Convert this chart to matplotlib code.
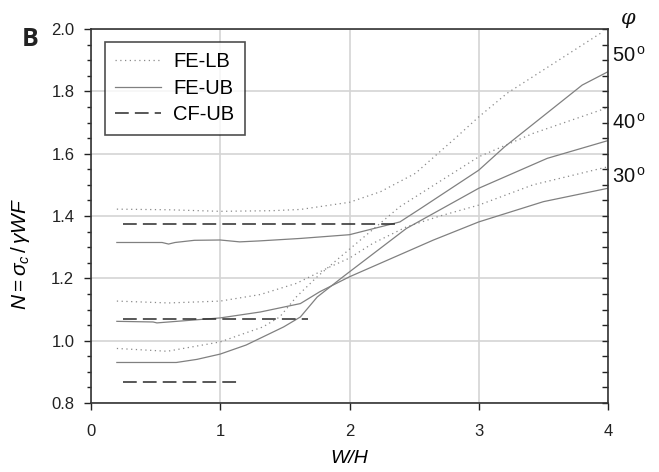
import matplotlib
matplotlib.use("Agg")
import matplotlib.pyplot as plt
from matplotlib.ticker import MultipleLocator

plt.rcParams['font.family'] = ['Liberation Sans', 'DejaVu Sans']
plt.rcParams['mathtext.fontset'] = 'custom'
plt.rcParams['mathtext.rm'] = 'Liberation Sans'
plt.rcParams['mathtext.it'] = 'Liberation Sans:italic'
plt.rcParams['mathtext.bf'] = 'Liberation Sans:bold'

# ---- data ----
# phi = 50 deg set
lb50_x = [0.2, 0.6, 1.0, 1.4, 1.62, 2.0, 2.24, 2.51, 2.83, 3.0, 3.22, 3.96]
lb50_y = [1.422, 1.420, 1.415, 1.417, 1.421, 1.444, 1.478, 1.537, 1.654, 1.718, 1.794, 1.991]
ub50_x = [0.2, 0.55, 0.6, 0.65, 0.8, 1.0, 1.15, 1.3, 1.62, 2.0, 2.39, 2.55, 3.0, 3.2, 3.8, 4.0]
ub50_y = [1.315, 1.315, 1.310, 1.315, 1.322, 1.323, 1.317, 1.320, 1.328, 1.340, 1.381, 1.424,
          1.547, 1.622, 1.820, 1.863]
cf50_x = [0.25, 2.39]
cf50_y = [1.375, 1.375]

# middle-left set (ends at 30 deg)
lbB_x = [0.2, 0.6, 1.0, 1.31, 1.59, 1.85, 2.0, 2.18, 2.44, 2.7, 3.0, 3.42, 4.0]
lbB_y = [1.127, 1.121, 1.127, 1.148, 1.184, 1.237, 1.265, 1.312, 1.365, 1.400, 1.435, 1.500, 1.558]
ubB_x = [0.2, 0.48, 0.51, 1.0, 1.31, 1.62, 1.77, 2.0, 2.65, 3.0, 3.5, 4.0]
ubB_y = [1.062, 1.060, 1.057, 1.073, 1.092, 1.119, 1.157, 1.205, 1.323, 1.381, 1.446, 1.489]
cfB_x = [0.25, 1.68]
cfB_y = [1.071, 1.071]

# lowest-left set (ends at 40 deg)
lbC_x = [0.2, 0.59, 1.0, 1.15, 1.33, 1.46, 1.59, 1.75, 1.93, 2.39, 3.0, 3.42, 4.0]
lbC_y = [0.975, 0.966, 0.996, 1.018, 1.044, 1.076, 1.141, 1.205, 1.269, 1.430, 1.590, 1.665, 1.748]
ubC_x = [0.2, 0.66, 0.82, 1.0, 1.2, 1.49, 1.62, 1.75, 1.95, 2.44, 3.0, 3.53, 4.0]
ubC_y = [0.930, 0.930, 0.940, 0.957, 0.986, 1.044, 1.076, 1.140, 1.205, 1.360, 1.489, 1.585, 1.642]
cfC_x = [0.25, 1.15]
cfC_y = [0.866, 0.866]

legend_labels = ['FE-LB', 'FE-UB', 'CF-UB']
phi_labels = ['50', '40', '30']
phi_label_y = [1.915, 1.70, 1.525]
x_ticks = [0, 1, 2, 3, 4]
y_ticks = [0.8, 1.0, 1.2, 1.4, 1.6, 1.8, 2.0]

# ---- figure ----
fig = plt.figure(figsize=(6.59, 4.72), dpi=100)
ax = fig.add_axes([91/659, 1-403/472, (608-91)/659, (403-29)/472])

lb_style = dict(color='#8a8a8a', lw=0.9, linestyle=(0, (1, 2.8)))
ub_style = dict(color='#808080', lw=0.9, linestyle='-')
cf_style = dict(color='#2a2a2a', lw=1.1, linestyle=(0, (9, 4)))

h_lb, = ax.plot(lb50_x, lb50_y, **lb_style)
ax.plot(lbB_x, lbB_y, **lb_style)
ax.plot(lbC_x, lbC_y, **lb_style)
h_ub, = ax.plot(ub50_x, ub50_y, **ub_style)
ax.plot(ubB_x, ubB_y, **ub_style)
ax.plot(ubC_x, ubC_y, **ub_style)
h_cf, = ax.plot(cf50_x, cf50_y, **cf_style)
ax.plot(cfB_x, cfB_y, **cf_style)
ax.plot(cfC_x, cfC_y, **cf_style)

ax.set_xlim(0, 4)
ax.set_ylim(0.8, 2.0)
ax.set_xticks(x_ticks)
ax.set_xticklabels([str(t) for t in x_ticks])
ax.set_yticks(y_ticks)
ax.set_yticklabels([f'{t:.1f}' for t in y_ticks])
ax.yaxis.set_minor_locator(MultipleLocator(0.05))
ax.grid(True, which='major', color='#d4d4d4', lw=1.2)
ax.set_axisbelow(True)

for s in ax.spines.values():
    s.set_color('#333333')
    s.set_linewidth(1.2)

ax.tick_params(axis='both', which='major', labelsize=12, colors='#222222', width=1, length=5,
               direction='out', pad=7)
ax.tick_params(axis='x', pad=10)
ax.tick_params(axis='y', which='minor', length=3, width=1, direction='out', colors='#222222')
ax.tick_params(axis='y', which='both', right=True, labelright=False)
# right side ticks inward
for t in ax.yaxis.get_major_ticks() + ax.yaxis.get_minor_ticks():
    t.tick2line.set_marker(matplotlib.lines.TICKLEFT)
    t.tick2line.set_markersize(4)

ax.set_xlabel('W/H', fontsize=14, style='italic', labelpad=8)
ax.set_ylabel(r'$N=\sigma_c\,/\,\gamma WF$', fontsize=15)
ax.yaxis.set_label_coords((32 - 91) / 517, (403 - 254) / 374)

leg = ax.legend([h_lb, h_ub, h_cf], legend_labels, loc='upper left',
                bbox_to_anchor=(0.027, 0.965), borderaxespad=0, fontsize=14.5,
                handlelength=2.3, handletextpad=0.6, labelspacing=0.38,
                borderpad=0.5, fancybox=False, frameon=True)
leg.get_frame().set_edgecolor('#222222')
leg.get_frame().set_linewidth(1.2)

for lab, yv in zip(phi_labels, phi_label_y):
    ax.text(1.008, yv, lab + r'$^{\,\mathrm{o}}$', transform=ax.get_yaxis_transform(),
            fontsize=14.5, va='center', ha='left', color='#111111')
fig.text(628/659, 1-18/472, 'φ', fontsize=15, style='italic', family='DejaVu Serif',
         ha='center', va='center', color='#111111')
fig.text(30/659, 1-40/472, 'B', fontsize=18, fontweight='bold', family='Open Sans',
         ha='center', va='center', color='#222222')

fig.savefig('out.png', dpi=100)
